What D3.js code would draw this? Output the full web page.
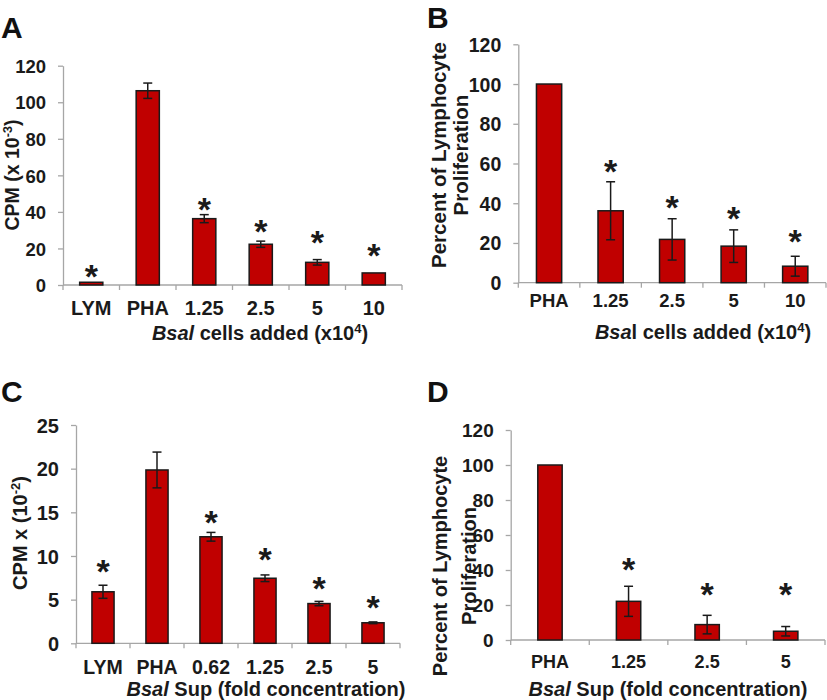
<!DOCTYPE html>
<html><head><meta charset="utf-8">
<script src="https://cdn.jsdelivr.net/npm/d3@7"></script>
<style>body{margin:0;background:#fff}svg{display:block}</style>
</head><body>
<svg id="c" width="827" height="700"></svg>
<script>
// ---- Data ----
const catsA = ["LYM","PHA","1.25","2.5","5","10"];
const valsA = [1.5,106.3,36.3,22.3,12.4,6.6];
const errA  = [0,4.2,2.2,1.7,1.5,0];
const starA = [9.1,null,45.6,33.8,27.4,20.6];

const catsB = ["PHA","1.25","2.5","5","10"];
const valsB = [100,36.2,21.8,18.4,8.3];
const errB  = [0,14.6,10.4,8.2,5.0];
const starB = [null,60.1,41.6,36.3,24.5];

const catsC = ["LYM","PHA","0.62","1.25","2.5","5"];
const valsC = [5.9,19.85,12.2,7.45,4.55,2.35];
const errC  = [0.75,2.05,0.5,0.38,0.25,0.1];
const starC = [9.16,null,14.7,10.5,7.17,4.96];

const catsD = ["PHA","1.25","2.5","5"];
const valsD = [100,22.1,8.8,5.0];
const errD  = [0,8.6,5.3,2.7];
const starD = [null,44.7,30.5,30.5];

const ticksPct = [0,20,40,60,80,100,120];
const ticksA = [0,20,40,60,80,100,120];
const ticksC = [0,5,10,15,20,25];

// ---- Drawing ----
const FONT = "'Liberation Sans', Arial, Helvetica, sans-serif";
const svg = d3.select("#c").style("font-family", FONT);
const AXIS = "#a6a6a6", BAR = "#c00000", INK = "#1a1a1a";

function addSegs(sel, segs, fs){
  segs.forEach(seg=>{
    const s = sel.append("tspan").text(seg.t);
    if(seg.it) s.attr("font-style","italic");
    if(seg.sup) s.attr("baseline-shift","super").attr("font-size",fs*0.65);
  });
}

function panel(o){
  const g = svg.append("g");
  const x = d3.scaleBand().domain(o.cats).range([o.left,o.right])
      .paddingInner(1-o.ratio).paddingOuter((1-o.ratio)/2);
  const y = d3.scaleLinear().domain([0,o.yMax]).range([o.bottom,o.top]);
  const data = o.cats.map((c,i)=>({c, v:o.vals[i], e:o.errs[i], s:o.stars[i]}));

  // y axis
  const ya = g.append("g").attr("transform",`translate(${o.left},0)`)
    .call(d3.axisLeft(y).tickValues(o.ticks).tickSize(5).tickPadding(12).tickSizeOuter(0));
  ya.select(".domain").attr("stroke",AXIS).attr("stroke-width",1.3);
  ya.selectAll(".tick line").attr("stroke",AXIS).attr("stroke-width",1.3);
  ya.selectAll(".tick text").attr("fill",INK).attr("font-size",o.yFont).attr("font-weight","bold")
    .attr("font-family",FONT).attr("dy","0.36em");

  // x axis: labels at band centers, separator ticks at band boundaries
  const xa = g.append("g").attr("transform",`translate(0,${o.bottom})`)
    .call(d3.axisBottom(x).tickSize(0).tickPadding(o.xPad));
  xa.select(".domain").remove();
  xa.selectAll(".tick text").attr("fill",INK).attr("font-size",o.xFont).attr("font-weight","bold")
    .attr("font-family",FONT);
  g.append("line").attr("x1",o.left).attr("x2",o.right).attr("y1",o.bottom).attr("y2",o.bottom)
    .attr("stroke",AXIS).attr("stroke-width",1.3);
  const step = x.step();
  const b0 = x(o.cats[0]) - x.paddingOuter()*step;
  g.selectAll(".xt").data(d3.range(o.cats.length+1)).join("line")
    .attr("x1",i=>b0+i*step).attr("x2",i=>b0+i*step)
    .attr("y1",o.bottom).attr("y2",o.bottom+5).attr("stroke",AXIS).attr("stroke-width",1.3);

  // bars
  g.selectAll(".bar").data(data).join("rect")
    .attr("x",d=>x(d.c)).attr("width",x.bandwidth())
    .attr("y",d=>y(d.v)).attr("height",d=>y(0)-y(d.v))
    .attr("fill",BAR).attr("stroke",INK).attr("stroke-width",1.5);

  // error bars
  const eb = g.selectAll(".eb").data(data.filter(d=>d.e>0)).join("g");
  const cx = d=>x(d.c)+x.bandwidth()/2;
  eb.append("line").attr("x1",cx).attr("x2",cx).attr("y1",d=>y(d.v+d.e)).attr("y2",d=>y(d.v-d.e))
    .attr("stroke",INK).attr("stroke-width",1.5);
  [1,-1].forEach(sg=>{
    eb.append("line").attr("x1",d=>cx(d)-4.5).attr("x2",d=>cx(d)+4.5)
      .attr("y1",d=>y(d.v+sg*d.e)).attr("y2",d=>y(d.v+sg*d.e))
      .attr("stroke",INK).attr("stroke-width",1.5);
  });

  // significance stars
  const sfs = 34;
  g.selectAll(".star").data(data.filter(d=>d.s!=null)).join("text")
    .attr("x",cx).attr("y",d=>y(d.s)+0.57*sfs)
    .attr("text-anchor","middle").attr("font-size",sfs).attr("font-weight","bold")
    .attr("fill",INK).text("*");

  // y title (rotated); each line: baseline x, center y
  o.yt.lines.forEach(ln=>{
    const t = g.append("text").attr("transform",`translate(${ln.x},${o.yt.y}) rotate(-90)`)
      .attr("text-anchor","middle").attr("font-size",o.yt.fs).attr("font-weight","bold").attr("fill",INK);
    addSegs(t, ln.segs, o.yt.fs);
  });

  // x title
  const xt = g.append("text").attr("x",o.xt.x).attr("y",o.xt.y).attr("text-anchor","middle")
    .attr("font-size",o.xt.fs).attr("font-weight","bold").attr("fill",INK);
  addSegs(xt, o.xt.segs, o.xt.fs);

  // panel letter
  g.append("text").attr("x",o.letter.x).attr("y",o.letter.y).attr("font-size",30)
    .attr("font-weight","bold").attr("fill","#111").text(o.letter.t);
}

panel({cats:catsA, vals:valsA, errs:errA, stars:starA, ticks:ticksA, yMax:120,
  left:63, right:402, top:65.7, bottom:285, ratio:0.41, yFont:18.5, xFont:20, xPad:16,
  yt:{y:175,fs:19.5,lines:[{x:18.5,segs:[{t:"CPM (x 10"},{t:"-3",sup:true},{t:")"}]}]},
  xt:{x:260,y:340,fs:20,segs:[{t:"Bsal",it:true},{t:" cells added (x10"},{t:"4",sup:true},{t:")"}]},
  letter:{x:1,y:38,t:"A"}});

panel({cats:catsB, vals:valsB, errs:errB, stars:starB, ticks:ticksPct, yMax:120,
  left:518.3, right:826, top:44.3, bottom:282.7, ratio:0.41, yFont:19.5, xFont:18.5, xPad:11.5,
  yt:{y:155,fs:20.5,lines:[{x:446,segs:[{t:"Percent of Lymphocyte"}]},{x:468,segs:[{t:"Proliferation"}]}]},
  xt:{x:703,y:339,fs:20,segs:[{t:"Bsa",it:true},{t:"l cells added (x10"},{t:"4",sup:true},{t:")"}]},
  letter:{x:427,y:27.5,t:"B"}});

panel({cats:catsC, vals:valsC, errs:errC, stars:starC, ticks:ticksC, yMax:25,
  left:76, right:400, top:425, bottom:643.3, ratio:0.41, yFont:20, xFont:19.5, xPad:16.5,
  yt:{y:533,fs:20,lines:[{x:27,segs:[{t:"CPM x (10"},{t:"-2",sup:true},{t:")"}]}]},
  xt:{x:266,y:695.5,fs:20,segs:[{t:"Bsal",it:true},{t:" Sup (fold concentration)"}]},
  letter:{x:1,y:402,t:"C"}});

panel({cats:catsD, vals:valsD, errs:errD, stars:starD, ticks:ticksPct, yMax:120,
  left:510.7, right:825, top:430, bottom:640, ratio:0.31, yFont:19, xFont:18, xPad:15,
  yt:{y:566,fs:20,lines:[{x:447,segs:[{t:"Percent of Lymphocyte"}]},{x:476,segs:[{t:"Proliferation"}]}]},
  xt:{x:668,y:695.5,fs:20,segs:[{t:"Bsal",it:true},{t:" Sup (fold concentration)"}]},
  letter:{x:427,y:402,t:"D"}});
</script>
</body></html>
